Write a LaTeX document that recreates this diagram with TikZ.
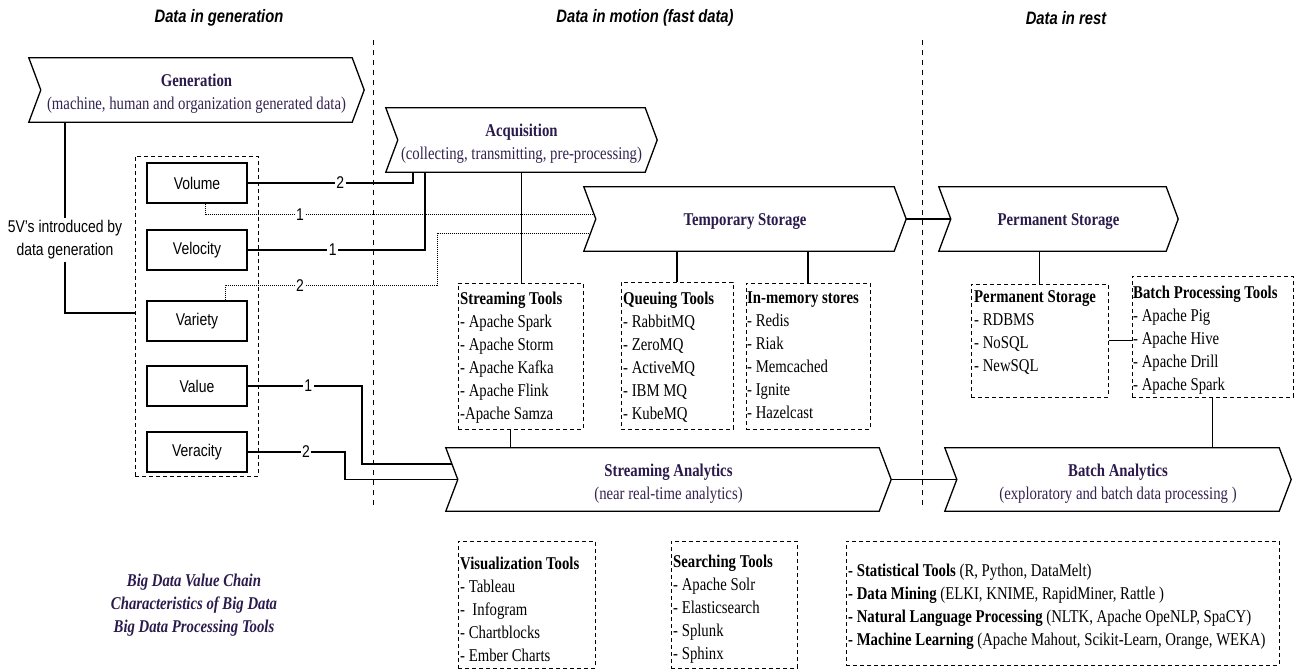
\documentclass[tikz,border=0pt]{standalone}
\usepackage{fontspec}
\setmainfont{Liberation Serif}[FakeStretch=0.82]
\setsansfont{Liberation Sans}[FakeStretch=0.82]
\usetikzlibrary{calc}
\definecolor{tcol}{HTML}{2B1A4C}
\definecolor{scol}{HTML}{33234F}
\newcommand\serfont{\fontsize{18}{23}\selectfont}
\newcommand\sanfont{\fontsize{17}{23}\selectfont\sffamily}
\newcommand\chevdraw[1]{\draw[chevline] (#1.north west) -- ([xshift=-12pt]#1.north east) -- (#1.east) -- ([xshift=-12pt]#1.south east) -- (#1.south west) -- ([xshift=12pt]#1.west) -- cycle;}
\begin{document}
\begin{tikzpicture}[x=1pt,y=-1pt,
  chevline/.style={line width=1.3pt, line join=miter},
  chev/.style={inner sep=0pt, minimum height=64pt},
  ctext/.style={inner sep=0pt, align=center, text=tcol, font=\serfont\bfseries},
  hdr/.style={font=\fontsize{18}{20}\selectfont\sffamily\bfseries\itshape},
  sep/.style={line width=0.9pt, dash pattern=on 5pt off 5pt},
  vbox/.style={draw, line width=1.2pt, minimum width=100pt, minimum height=40pt, inner sep=0pt, font=\sanfont},
  dbox/.style={draw, line width=1pt, dash pattern=on 4pt off 3pt, inner sep=0pt},
  list/.style={anchor=north west, inner sep=0pt, align=left, font=\serfont},
  conn/.style={line width=1.2pt},
  thk/.style={line width=1.8pt},
  dot/.style={line width=1pt, dash pattern=on 1pt off 1pt},
  lab/.style={fill=white, inner sep=1.5pt, font=\sanfont}
]
\useasboundingbox (0,0) rectangle (1295,670);

% section headers and separators
\node[hdr] (h1) at (219,18) {Data in generation};
\node[hdr] (h2) at (645,18) {Data in motion (fast data)};
\node[hdr] (h3) at (1066,18) {Data in rest};
\coordinate (s1t) at (373,40); \coordinate (s1b) at (373,505);
\coordinate (s2t) at (922,40); \coordinate (s2b) at (922,505);
\draw[sep] (s1t) -- (s1b);
\draw[sep] (s2t) -- (s2b);

% chevrons
\node[chev, minimum width=335pt] (gen) at (196.5,90) {};
\node[chev, minimum width=271pt] (acq) at (521.5,140) {};
\node[chev, minimum width=322pt] (tmp) at (745,219) {};
\node[chev, minimum width=239pt] (perm) at (1058.5,219) {};
\node[chev, minimum width=445pt, minimum height=63pt] (sa) at (668.5,479.5) {};
\node[chev, minimum width=346pt, minimum height=63pt] (ba) at (1118,479.5) {};
\chevdraw{gen}
\chevdraw{acq}
\chevdraw{tmp}
\chevdraw{perm}
\chevdraw{sa}
\chevdraw{ba}
\node[ctext] (genT) at ($(gen.center)+(0,4)$) {Generation\\{\mdseries\color{scol}(machine, human and organization generated data)}};
\node[ctext] (acqT) at ($(acq.center)+(0,4)$) {Acquisition\\{\mdseries\color{scol}(collecting, transmitting, pre-processing)}};
\node[ctext] (tmpT) at ($(tmp.center)+(0,3)$) {Temporary Storage};
\node[ctext] (permT) at ($(perm.center)+(0,3)$) {Permanent Storage};
\node[ctext] (saT) at ($(sa.center)+(0,4)$) {Streaming Analytics\\{\mdseries\color{scol}(near real-time analytics)}};
\node[ctext] (baT) at ($(ba.center)+(0,4)$) {Batch Analytics\\{\mdseries\color{scol}(exploratory and batch data processing )}};

% 5V
\node[dbox, minimum width=123pt, minimum height=320pt] (fivebox) at (196.5,316) {};
\node[vbox] (vol) at (197,183) {Volume};
\node[vbox] (vel) at (197,250) {Velocity};
\node[vbox] (var) at (197,321) {Variety};
\node[vbox] (val) at (197,386) {Value};
\node[vbox] (ver) at (197,452) {Veracity};
\node[align=center, font=\sanfont, inner sep=2pt] (five) at (65,240) {5V's introduced by\\data generation};
\coordinate (k5) at (65,313);
\draw[conn] (gen.south -| five.north) -- (five.north);
\draw[conn] (five.south) -- (k5) -- (k5 -| fivebox.west);

% tool boxes
\node[dbox, minimum width=125pt, minimum height=146pt] (stt) at (520.5,356) {};
\node[list] (sttT) at (460,292) {\textbf{Streaming Tools}\\- Apache Spark\\- Apache Storm\\- Apache Kafka\\- Apache Flink\\-Apache Samza};
\node[dbox, minimum width=112pt, minimum height=147pt] (qt) at (677,355.5) {};
\node[list] (qtT) at (623,292) {\textbf{Queuing Tools}\\- RabbitMQ\\- ZeroMQ\\- ActiveMQ\\- IBM MQ\\- KubeMQ};
\node[dbox, minimum width=124pt, minimum height=146pt] (ims) at (808,356) {};
\node[list] (imsT) at (747,292) {\textbf{In-memory stores}\\- Redis\\- Riak\\- Memcached\\- Ignite\\- Hazelcast};
\node[dbox, minimum width=137pt, minimum height=113pt] (psb) at (1039.5,340.5) {};
\node[list] (psbT) at (974,290) {\textbf{Permanent Storage}\\- RDBMS\\- NoSQL\\- NewSQL};
\node[dbox, minimum width=161pt, minimum height=121pt] (bpt) at (1212.5,336.5) {};
\node[list] (bptT) at (1133,286) {\textbf{Batch Processing Tools}\\- Apache Pig\\- Apache Hive\\- Apache Drill\\- Apache Spark};
\node[dbox, minimum width=137pt, minimum height=127pt] (viz) at (526.5,604.5) {};
\node[list] (vizT) at (460,557) {\textbf{Visualization Tools}\\- Tableau\\-\ \ Infogram\\- Chartblocks\\- Ember Charts};
\node[dbox, minimum width=126pt, minimum height=127pt] (srch) at (734,604.5) {};
\node[list] (srchT) at (673,555) {\textbf{Searching Tools}\\- Apache Solr\\- Elasticsearch\\- Splunk\\- Sphinx};
\node[dbox, minimum width=433pt, minimum height=124pt] (ml) at (1062.5,603) {};
\node[list] (mlT) at (848,564) {\textbf{- Statistical Tools} (R, Python, DataMelt)\\\textbf{- Data Mining} (ELKI, KNIME, RapidMiner, Rattle )\\\textbf{- Natural Language Processing} (NLTK, Apache OpeNLP, SpaCY)\\\textbf{- Machine Learning} (Apache Mahout, Scikit-Learn, Orange, WEKA)};

% legend
\node[align=center, text=tcol, font=\serfont\bfseries\itshape] (leg) at (194,605) {Big Data Value Chain\\Characteristics of Big Data\\Big Data Processing Tools};

% chain connectors
\draw[thk] (tmp.east) -- ([xshift=12pt]perm.west);
\draw[thk] (sa.east) -- ([xshift=12pt]ba.west);
\draw[conn] (acq.south) -- (acq.south |- stt.north);
\draw[thk] (qt.north) -- (qt.north |- tmp.south);
\draw[conn] (ims.north) -- (ims.north |- tmp.south);
\draw[conn] ([xshift=-10pt]stt.south) -- ([xshift=-10pt]stt.south |- sa.north);
\draw[conn] (psb.north) -- (psb.north |- perm.south);
\draw[thk] (psb.east) -- (bpt.west |- psb.east);
\draw[conn] (bpt.south) -- (bpt.south |- ba.north);

% V connectors
\coordinate (qa) at (413,0);
\coordinate (qb) at (425,0);
\coordinate (qc) at (437,0);
\coordinate (qd) at (362,0);
\coordinate (qe) at (345,0);
\draw[conn] (vol.east) -- node[lab, pos=0.56]{2} (vol.east -| qa) -- (qa |- acq.south);
\draw[conn] (vel.east) -- node[lab, pos=0.48]{1} (vel.east -| qb) -- (qb |- acq.south);
\coordinate (t1) at ($(tmp.north west)!0.875!([xshift=12pt]tmp.west)$);
\coordinate (t2) at ($([xshift=12pt]tmp.west)!0.4375!(tmp.south west)$);
\coordinate (v1) at ([xshift=8pt]vol.south);
\draw[dot] (v1) -- (v1 |- t1) -- node[lab, pos=0.244]{1} (t1);
\coordinate (v2) at ([xshift=28pt]var.north);
\coordinate (v2b) at ($(v2)+(0,-15)$);
\draw[dot] (v2) -- (v2b) -- node[lab, pos=0.354]{2} (v2b -| qc) -- (qc |- t2) -- (t2);
\coordinate (s1) at ($(sa.north west)!0.508!([xshift=12pt]sa.west)$);
\draw[conn] (val.east) -- node[lab, pos=0.53]{1} (val.east -| qd) -- (qd |- s1) -- (s1);
\draw[conn] (ver.east) -- node[lab, pos=0.6]{2} (ver.east -| qe) -- (qe |- sa.west) -- ([xshift=12pt]sa.west);
\end{tikzpicture}
\end{document}
